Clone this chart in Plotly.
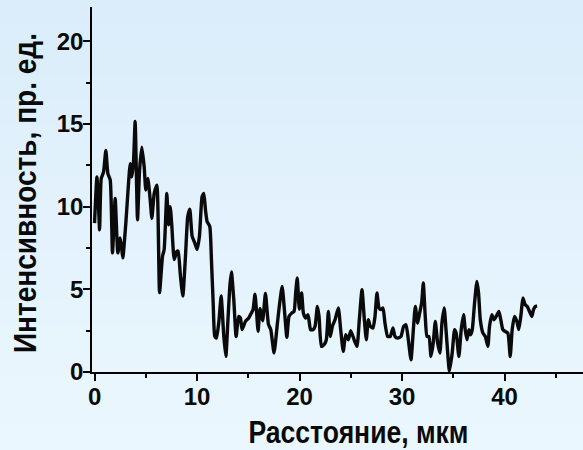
import plotly.graph_objects as go

# Distance along the profile, µm
distance = [0, 0.23, 0.39, 0.49, 0.65, 0.88, 1.10, 1.30, 1.53, 1.75, 2.01, 2.27, 2.50, 2.66, 2.76,
            3.05, 3.31, 3.48, 3.64, 3.80, 3.96, 4.19, 4.39, 4.61, 4.84, 5.00, 5.20, 5.43, 5.59, 5.82,
            6.08, 6.34, 6.63, 6.79, 7.05, 7.21, 7.38, 7.54, 7.77, 8.03, 8.15, 8.38, 8.61, 8.87, 9.09,
            9.29, 9.52, 9.78, 10.00, 10.23, 10.49, 10.66, 10.82, 10.98, 11.24, 11.40, 11.57, 11.73,
            11.89, 12.12, 12.35, 12.45, 12.61, 12.81, 13.00, 13.20, 13.35, 13.58, 13.81, 14.06, 14.23,
            14.39, 14.72, 15.04, 15.30, 15.46, 15.65, 15.79, 15.95, 16.15, 16.40, 16.67, 16.96, 17.19,
            17.51, 17.84, 18.06, 18.30, 18.52, 18.76, 18.97, 19.23, 19.46, 19.62, 19.77, 19.98, 20.20,
            20.37, 20.60, 20.83, 21.07, 21.31, 21.51, 21.74, 21.90, 22.13, 22.39, 22.61, 22.81, 23.00,
            23.20, 23.46, 23.78, 24.01, 24.26, 24.50, 24.76, 24.99, 25.32, 25.60, 25.83, 26.09, 26.32,
            26.51, 26.71, 26.90, 27.16, 27.36, 27.55, 27.75, 27.94, 28.14, 28.33, 28.59, 28.85, 29.11,
            29.31, 29.57, 29.89, 30.15, 30.38, 30.61, 30.87, 31.10, 31.29, 31.52, 31.71, 31.91, 32.07,
            32.26, 32.43, 32.62, 32.82, 33.04, 33.24, 33.47, 33.69, 33.89, 34.11, 34.31, 34.62, 34.89,
            35.12, 35.28, 35.54, 35.77, 36.00, 36.16, 36.33, 36.52, 36.68, 36.85, 37.07, 37.30, 37.46,
            37.63, 37.89, 38.12, 38.37, 38.53, 38.76, 38.95, 39.18, 39.44, 39.60, 39.83, 40.06, 40.32,
            40.55, 40.74, 40.97, 41.20, 41.39, 41.62, 41.78, 42.01, 42.20, 42.43, 42.66, 42.82, 43.01,
            43.17]

# Intensity, arb. units
intensity = [9.0, 11.8, 10.0, 8.6, 11.7, 12.1, 13.4, 12.0, 11.6, 7.2, 10.5, 7.2, 8.1, 7.4, 6.9,
             9.0, 11.4, 12.6, 11.8, 12.7, 15.15, 9.2, 12.2, 13.6, 12.4, 11.0, 11.7, 10.4, 9.3, 10.8,
             11.3, 4.8, 7.0, 7.4, 10.8, 8.9, 10.0, 8.8, 6.8, 7.3, 7.3, 5.8, 4.6, 7.0, 9.4,
             9.85, 8.2, 7.8, 7.4, 8.2, 10.6, 10.8, 9.8, 9.1, 8.8, 6.8, 4.2, 2.15,
             2.05, 3.0, 4.6, 3.8, 2.15, 0.94, 3.0, 5.2, 6.05, 4.4, 2.15, 3.36, 3.26,
             2.56, 3.06, 3.26, 3.57, 3.77, 4.7, 3.77, 2.46, 3.85, 3.1, 4.75, 2.9, 2.56,
             1.15, 2.96, 4.17, 5.18, 3.77, 2.1, 3.36, 3.56, 3.66, 4.78, 5.68, 3.8, 4.78,
             3.56, 3.26, 3.46, 2.56, 2.56, 2.76, 3.97, 3.36, 1.55, 1.65, 1.95, 3.66, 2.15,
             2.76, 3.16, 3.87, 2.56, 1.25, 2.25, 1.95, 2.5, 1.95, 1.55, 3.16, 4.98, 3.16,
             1.95, 3.16, 2.76, 2.66, 3.36, 4.78, 3.87, 3.77, 3.87, 2.96, 2.15, 2.15, 2.66,
             2.15, 2.05, 2.15, 2.76, 2.86, 1.95, 0.74, 2.56, 3.97, 2.96, 3.56, 4.17, 5.38,
             3.36, 2.15, 2.15, 0.94, 1.75, 3.06, 1.75, 1.15, 2.96, 3.87, 2.35, 0.05, 1.15,
             2.56, 2.35, 0.94, 2.56, 3.46, 2.56, 1.95, 2.56, 2.25, 2.56, 4.17, 5.48, 4.78,
             3.16, 2.35, 2.15, 1.55, 2.76, 3.46, 3.16, 3.36, 3.66, 3.26, 2.56, 2.45, 2.35,
             0.94, 2.56, 3.36, 3.06, 2.56, 3.56, 4.47, 4.07, 3.97, 3.66, 3.36, 3.77, 3.97,
             4.0]

x_ticks = [0, 10, 20, 30, 40]
y_ticks = [0, 5, 10, 15, 20]
x_title = "Расстояние, мкм"
y_title = "Интенсивность, пр. ед."

W, H = 583, 450
L, R, T, B = 92, 0, 7, 78
pw, ph = W - L - R, H - T - B

FONT = "Liberation Sans Narrow, Arial Narrow, Liberation Sans, Arial, sans-serif"

fig = go.Figure()
fig.add_trace(go.Scatter(
    x=distance, y=intensity, mode="lines",
    line=dict(color="#0a0a0a", width=3.4, shape="spline", smoothing=0.5),
    hoverinfo="skip", showlegend=False,
))

# subtle vertical background gradient
top_c = (219, 237, 251)
bot_c = (235, 247, 254)
n = 18
shapes = []
for i in range(n):
    f = i / (n - 1)
    c = tuple(round(top_c[k] + (bot_c[k] - top_c[k]) * f) for k in range(3))
    y_top = 1 + T / ph - i * (H / n) / ph + 0.001
    y_bot = y_top - (H / n) / ph - 0.004
    shapes.append(dict(type="rect", xref="paper", yref="paper",
                       x0=-L / pw - 0.01, x1=1.01, y0=y_bot, y1=y_top,
                       fillcolor="rgb(%d,%d,%d)" % c, line=dict(width=0), layer="below"))

axis_common = dict(
    showline=True, linecolor="#000", linewidth=1.5, mirror=False,
    ticks="outside", ticklen=7, tickwidth=1.5, tickcolor="#000",
    showgrid=False, zeroline=False, automargin=False, ticklabelstandoff=-5,
    tickfont=dict(family=FONT, size=24, color="#0a0a0a", weight="bold"),
)

TFS = 31
fig.update_layout(
    width=W, height=H,
    margin=dict(l=L, r=R, t=T, b=B, autoexpand=False),
    paper_bgcolor="rgb(227,242,252)",
    plot_bgcolor="rgba(0,0,0,0)",
    shapes=shapes,
    xaxis=dict(range=[-0.25, 47.65], tickvals=x_ticks,
               minor=dict(dtick=5, tick0=0, ticks="outside", ticklen=4, tickwidth=1.5, tickcolor="#000"),
               **axis_common),
    yaxis=dict(range=[0, 22.07], tickvals=y_ticks,
               minor=dict(dtick=2.5, tick0=0, ticks="outside", ticklen=4, tickwidth=1.5, tickcolor="#000"),
               **axis_common),
    annotations=[
        dict(text=x_title, xref="paper", yref="paper", borderpad=0,
             x=(358 - L) / pw, y=(H - B - 432.5) / ph, xanchor="center", yanchor="middle",
             showarrow=False, font=dict(family=FONT, size=TFS, color="#0a0a0a", weight="bold")),
        dict(text=y_title, xref="paper", yref="paper", textangle=-90, borderpad=0,
             x=(25 - L) / pw, y=(H - B - 193) / ph, xanchor="center", yanchor="middle",
             showarrow=False, font=dict(family=FONT, size=TFS, color="#0a0a0a", weight="bold")),
    ],
)

# Remove the default page margin and condense the two axis titles
# (no narrow face is installed) to the reference widths.
post = """
document.body.style.margin = '0';
document.body.style.padding = '0';
document.documentElement.style.margin = '0';
var gd = document.getElementsByClassName('plotly-graph-div')[0];
function squeeze(){
  var ts = gd.querySelectorAll('.annotation-text');
  var widths = {'%s': 220, '%s': 320};
  ts.forEach(function(t){
    var w = widths[t.textContent];
    if (w) { t.setAttribute('textLength', w); t.setAttribute('lengthAdjust', 'spacingAndGlyphs'); }
  });
}
squeeze();
gd.on('plotly_afterplot', squeeze);
""" % (x_title, y_title)

fig.write_html("out.html", post_script=post, config={"displayModeBar": False})
